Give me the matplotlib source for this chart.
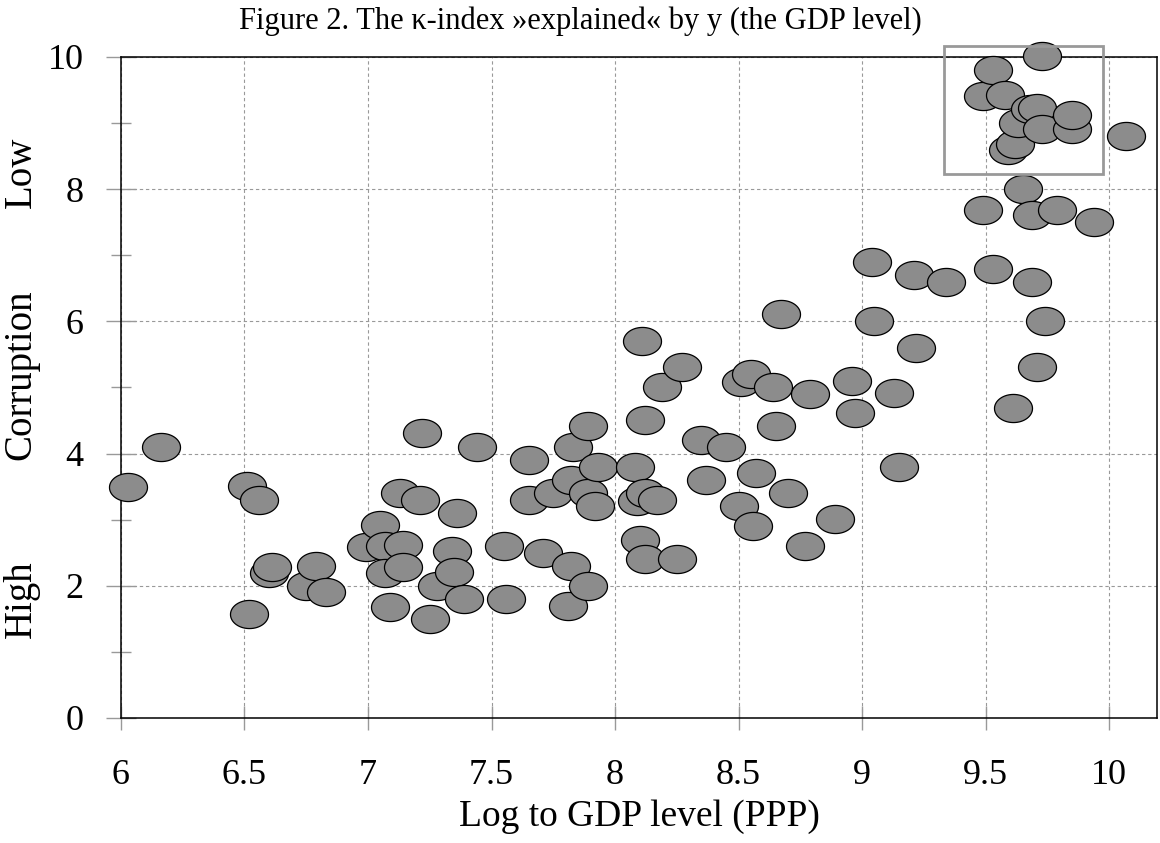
import numpy as np
import matplotlib
matplotlib.use("Agg")
import matplotlib.pyplot as plt
from matplotlib.path import Path
from matplotlib.patches import Rectangle
from matplotlib.ticker import MultipleLocator

plt.rcParams['font.family'] = ['Liberation Serif', 'DejaVu Serif']

# log GDP level (PPP) and corruption index
gdp = [6.03, 6.16, 6.51, 6.56, 6.52, 6.60, 6.61, 6.75, 6.79, 6.83,
       6.99, 7.05, 7.07, 7.07, 7.09, 7.13, 7.14, 7.14, 7.22, 7.21,
       7.25, 7.28, 7.34, 7.35, 7.36, 7.39, 7.44, 7.55, 7.56, 7.65,
       7.65, 7.71, 7.75, 7.83, 7.82, 7.82, 7.81, 7.89, 7.89, 7.89,
       7.93, 7.92, 8.08, 8.10, 8.11, 8.12, 8.09, 8.12, 8.12, 8.17,
       8.19, 8.27, 8.25, 8.35, 8.37, 8.45, 8.50, 8.51, 8.55, 8.56,
       8.57, 8.64, 8.65, 8.67, 8.70, 8.77, 8.79, 8.89, 8.96, 8.97,
       9.04, 9.05, 9.13, 9.15, 9.21, 9.22, 9.34, 9.49, 9.53, 9.49,
       9.53, 9.58, 9.59, 9.62, 9.63, 9.61, 9.65, 9.68, 9.71, 9.69,
       9.69, 9.71, 9.73, 9.73, 9.74, 9.79, 9.85, 9.85, 9.94, 10.07]
kindex = [3.50, 4.10, 3.51, 3.30, 1.58, 2.19, 2.29, 2.00, 2.30, 1.90,
          2.59, 2.92, 2.60, 2.19, 1.68, 3.40, 2.61, 2.29, 4.31, 3.30,
          1.50, 1.99, 2.52, 2.21, 3.10, 1.80, 4.10, 2.60, 1.80, 3.90,
          3.30, 2.50, 3.40, 4.10, 3.60, 2.30, 1.69, 1.99, 4.41, 3.40,
          3.80, 3.20, 3.80, 2.70, 5.71, 4.51, 3.29, 3.40, 2.40, 3.30,
          5.00, 5.31, 2.40, 4.21, 3.60, 4.10, 3.20, 5.09, 5.20, 2.90,
          3.70, 5.01, 4.41, 6.11, 3.40, 2.60, 4.90, 3.01, 5.10, 4.61,
          6.90, 6.01, 4.91, 3.80, 6.70, 5.60, 6.60, 7.69, 6.80, 9.41,
          9.81, 9.42, 8.59, 8.69, 9.00, 4.69, 8.01, 9.21, 9.23, 7.61,
          6.60, 5.31, 10.02, 8.91, 6.01, 7.69, 8.91, 9.12, 7.51, 8.80]

# highlighted box (top right)
box_x = (9.33, 9.975)
box_y = (8.23, 10.17)

# ellipse marker
t = np.linspace(0, 2 * np.pi, 60)
ellipse = Path(np.column_stack([np.cos(t), 0.74 * np.sin(t)]), closed=True)

fig = plt.figure(figsize=(11.6, 8.43), dpi=100)
ax = fig.add_axes([0.1043, 0.1483, 0.8931, 0.7841])

ax.scatter(gdp, kindex, s=750, marker=ellipse, facecolor='#8c8c8c',
           edgecolor='black', linewidth=0.9, zorder=3, clip_on=False)

ax.add_patch(Rectangle((box_x[0], box_y[0]), box_x[1] - box_x[0], box_y[1] - box_y[0],
                       fill=False, edgecolor='#999999', linewidth=2.0,
                       zorder=4, clip_on=False))

ax.set_xlim(6, 10.194)
ax.set_ylim(0, 10)
xt = np.arange(6, 10.01, 0.5)
ax.set_xticks(xt)
ax.set_xticklabels([f'{v:g}' for v in xt])
ax.yaxis.set_major_locator(MultipleLocator(2))
ax.yaxis.set_minor_locator(MultipleLocator(1))

ax.grid(True, which='major', color='#999999', linestyle=(0, (3, 2.5)), linewidth=0.8)
ax.set_axisbelow(True)

ax.tick_params(axis='x', which='major', direction='inout', length=17, width=1,
               color='#999999', labelsize=26, pad=21)
ax.tick_params(axis='y', which='major', direction='inout', length=22, width=1,
               color='#999999', labelsize=26, pad=16)
ax.tick_params(axis='y', which='minor', direction='inout', length=14, width=1,
               color='#999999')

for side in ['left', 'bottom', 'top', 'right']:
    ax.spines[side].set_color('black')
    ax.spines[side].set_linewidth(1.1)

ax.set_xlabel('Log to GDP level (PPP)', fontsize=27, labelpad=5)

# split y label
for word, yy in [('High', 1.8), ('Corruption', 5.2), ('Low', 8.25)]:
    fig.text(0.018, ax.transData.transform((0, yy))[1] / fig.bbox.height, word,
             rotation=90, fontsize=28, ha='center', va='center')

fig.text(0.5, 0.9656, 'Figure 2. The κ-index »explained« by y (the GDP level)',
         fontsize=22, ha='center', va='baseline')

fig.savefig('out.png', dpi=100)
